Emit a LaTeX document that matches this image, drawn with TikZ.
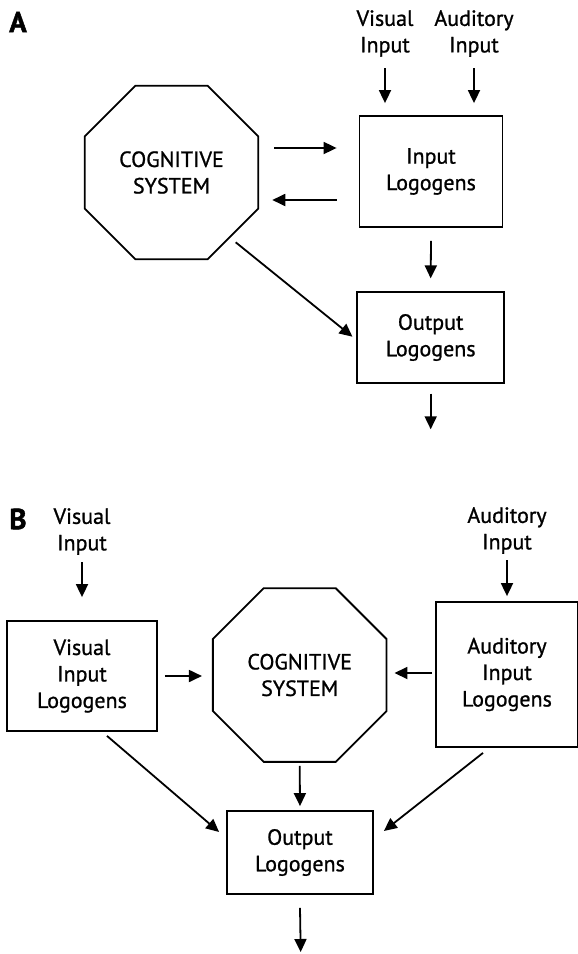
\documentclass[tikz,border=0pt]{standalone}
\usepackage{fontspec}
\setmainfont{PT Sans}[FakeBold=1]
\newfontfamily\panelfam{PT Sans Bold}[FakeBold=1.5]
\usetikzlibrary{shapes.geometric,arrows.meta,calc}
\newcommand{\lblfont}{\fontsize{22}{26.5}\selectfont}
\newcommand{\panelfont}{\fontsize{29}{29}\selectfont\panelfam}
\begin{document}
\begin{tikzpicture}[x=1pt,y=-1pt,
  box/.style={draw, line width=1.8pt, align=center, inner sep=0pt, font=\lblfont},
  octa/.style={draw, regular polygon, regular polygon sides=8, minimum size=188pt,
    inner sep=0pt, line width=1.8pt, align=center, font=\lblfont},
  lbl/.style={align=center, font=\lblfont, inner sep=0pt},
  arr/.style={-{Triangle[width=12pt,length=13pt]}, line width=1.8pt},
  panel/.style={font=\panelfont, inner sep=0pt}]
\path[use as bounding box] (0,0) rectangle (578,954);

% ---------- Panel A ----------
\node[panel] (labA) at (18,22) {A};
\node[lbl] (visA) at (385,33.5) {Visual\\Input};
\node[lbl] (audA) at (474,33.5) {Auditory\\Input};
\node[box, minimum width=143pt, minimum height=111.6pt] (inA) at (431,171.5) {Input\\Logogens};
\node[octa] (cogA) at (171.5,172.5) {COGNITIVE\\SYSTEM};
\node[box, minimum width=146.7pt, minimum height=90.4pt] (outA) at (430.7,337.5) {Output\\Logogens};
\coordinate (endA) at (430.7,429.3);

\draw[arr] ($(visA.center)+(0,34.5)$) -- ($(visA.center |- inA.north)+(0,-11.7)$);
\draw[arr] ($(audA.center)+(0,34.5)$) -- ($(audA.center |- inA.north)+(0,-11.7)$);
\draw[arr] ($(cogA.east)+(15,-24.5)$) -- ($(inA.west |- cogA.east)+(-22,-24.5)$);
\draw[arr] ($(inA.west |- cogA.east)+(-22,27.5)$) -- ($(cogA.east)+(13,27.5)$);
\draw[arr] ($(inA.south)+(0,12.7)$) -- ($(outA.north)+(0,-13)$);
\draw[arr] ($(cogA.center)+(64.2,69.8)$) -- ($(outA.west)+(-4,-0.8)$);
\draw[arr] ($(outA.south)+(0,10)$) -- (endA);

% ---------- Panel B ----------
\node[panel] (labB) at (18,519) {B};
\node[lbl] (visB) at (82,531.5) {Visual\\Input};
\node[box, minimum width=150pt, minimum height=110pt] (visbox) at (82,676) {Visual\\Input\\Logogens};
\node[octa] (cogB) at (299.7,675) {COGNITIVE\\SYSTEM};
\node[lbl] (audB) at (507,530.5) {Auditory\\Input};
\node[box, minimum width=142pt, minimum height=145pt] (audbox) at (507,674.5) {Auditory\\Input\\Logogens};
\node[box, minimum width=146pt, minimum height=83pt] (outB) at (300,852.5) {Output\\Logogens};
\coordinate (endB) at (300.7,952);

\draw[arr] ($(visB.center)+(0,30.5)$) -- ($(visbox.north)+(0,-23)$);
\draw[arr] ($(audB.center)+(0,29.5)$) -- ($(audbox.north)+(0,-5)$);
\draw[arr] ($(visbox.east)+(7,0)$) -- ($(cogB.west |- visbox.east)+(-10,0)$);
\draw[arr] ($(audbox.west)+(-3,-1.5)$) -- ($(cogB.east |- audbox.west)+(7,-1.5)$);
\draw[arr] ($(cogB.south)+(0,3)$) -- ($(outB.north)+(0,-4)$);
\draw[arr] ($(visbox.south)+(25,4)$) -- ($(outB.west)+(-7,-20.5)$);
\draw[arr] ($(audbox.south)+(-24,5)$) -- ($(outB.east)+(10,-21.5)$);
\draw[arr] ($(outB.south)+(0,13)$) -- (endB);
\end{tikzpicture}
\end{document}
